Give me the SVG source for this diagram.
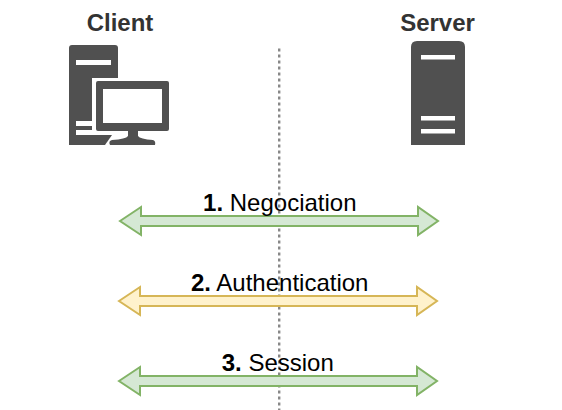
<svg xmlns="http://www.w3.org/2000/svg" width="562" height="410" viewBox="0 0 562 410">
<style>
.title{font-family:"Liberation Sans",Arial,sans-serif;font-size:24px;font-weight:bold;fill:#333;text-anchor:middle}
.label{font-family:"Liberation Sans",Arial,sans-serif;font-size:24px;fill:#000;text-anchor:middle}
.label tspan{font-weight:bold}
.icon{fill:#505050}
.hole{fill:#fff}
.green{fill:#d5e8d4;stroke:#82b366;stroke-width:2}
.yellow{fill:#fff2cc;stroke:#d6b656;stroke-width:2}
</style>
<rect width="562" height="410" fill="#fff"/>
<g id="connectors">
<path d="M279.200 48.500V410" fill="none" stroke="#888" stroke-width="2.400" stroke-dasharray="3 3"/>
</g>
<g id="client">
<text class="title" x="120" y="31">Client</text>
<path class="icon" d="M72 45H115Q118 45 118 48V145H69V48Q69 45 72 45Z"/>
<rect class="hole" x="76" y="60" width="35" height="5"/>
<rect class="hole" x="76" y="121" width="16" height="5"/>
<rect class="hole" x="76" y="130" width="36" height="5"/>
<rect class="hole" x="92" y="78" width="81" height="67"/>
<path class="icon" d="M92 135H112L105 145H92Z"/>
<path class="hole" d="M112 135H92V130H112Z"/>
<path class="icon" d="M98 81H167Q169 81 169 83V129Q169 131 167 131H138V136Q140 139 153 140Q156 141 155 145H110Q108 141 112 140Q126 139 128 136V131H98Q96 131 96 129V83Q96 81 98 81Z"/>
<rect class="hole" x="103" y="89" width="59" height="34"/>
</g>
<g id="server">
<text class="title" x="437.500" y="31">Server</text>
<path class="icon" d="M417 41H459Q465 41 465 47V145H411V47Q411 41 417 41Z"/>
<rect class="hole" x="421" y="55" width="34" height="4.500"/>
<rect class="hole" x="421" y="116" width="34" height="4.500"/>
<rect class="hole" x="421" y="129" width="34" height="4.500"/>
</g>
<g id="step1">
<path class="green" d="M120 221L141 207V216H418V207L438 221L418 235V226H141V235Z"/>
<text class="label" x="279.800" y="211"><tspan>1.</tspan> Negociation</text>
</g>
<g id="step2">
<path class="yellow" d="M119 301L140 287V296H417V287L437 301L417 315V306H140V315Z"/>
<text class="label" x="279.700" y="291"><tspan>2.</tspan> Authentication</text>
</g>
<g id="step3">
<path class="green" d="M119 381L140 367V376H417V367L437 381L417 395V386H140V395Z"/>
<text class="label" x="277.800" y="371"><tspan>3.</tspan> Session</text>
</g>
</svg>
